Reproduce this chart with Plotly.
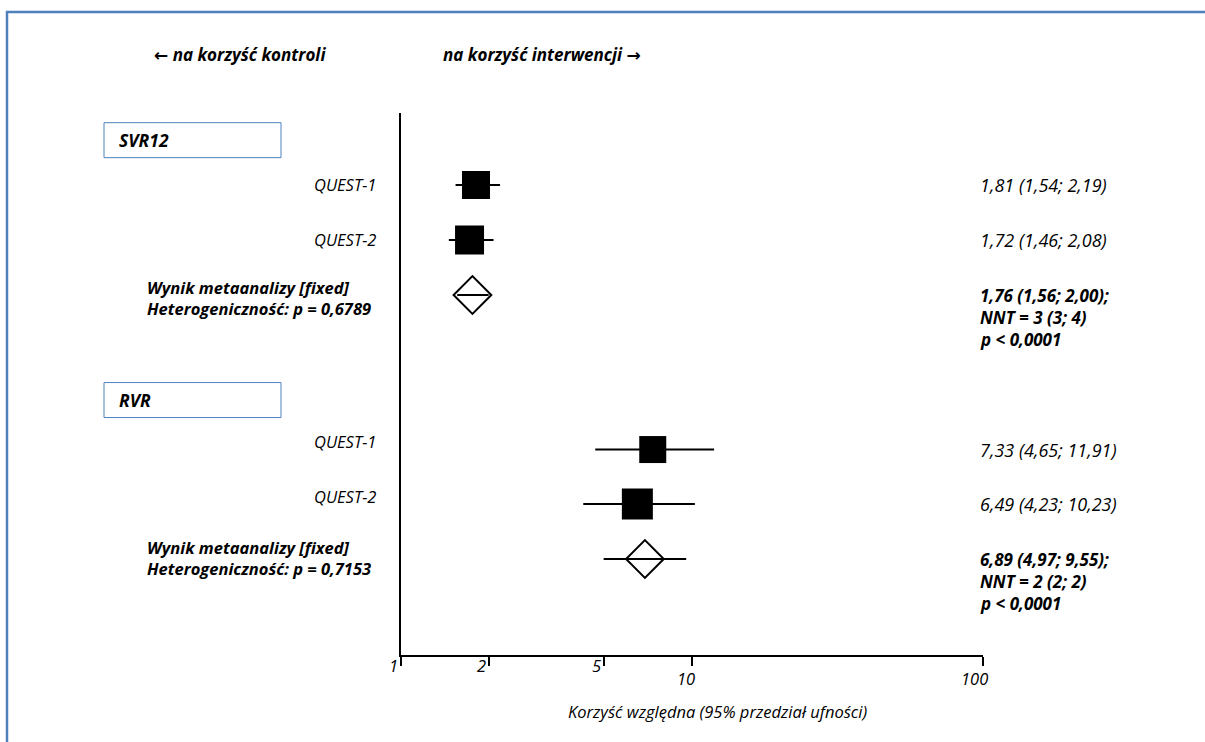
import math
import plotly.graph_objects as go

# ---------------- data ----------------
groups = ["SVR12", "RVR"]
study_names = ["QUEST-1", "QUEST-2", "QUEST-1", "QUEST-2"]
study_est = [1.81, 1.72, 7.33, 6.49]
study_lo = [1.54, 1.46, 4.65, 4.23]
study_hi = [2.19, 2.08, 11.91, 10.23]
meta_est = [1.76, 6.89]
meta_lo = [1.56, 4.97]
meta_hi = [2.00, 9.55]
meta_nnt = ["3 (3; 4)", "2 (2; 2)"]
meta_het_p = ["0,6789", "0,7153"]
meta_p = ["< 0,0001", "< 0,0001"]
x_ticks = [1, 2, 5, 10, 100]
x_title = "Korzyść względna (95% przedział ufności)"
left_hint = "na korzyść kontroli"
right_hint = "na korzyść interwencji"

# ---------------- layout helpers ----------------
W, H = 1205, 742
L, R, T, B = 401, 983, 113, 655  # plot area in pixels
study_rows = [0, 1, 4.81, 5.8]
meta_rows = [2, 6.8]
group_rows = [-0.815, 3.91]
label_shift = [1, 1, 8, 8]        # study-label offsets (px, upward)
meta_label_shift = [-3, 1]
ROW_PX = 55
Y_TOP = (T - 185) / ROW_PX
Y_BOT = (B - 185) / ROW_PX
SQ_SIZES = [28, 29, 27, 31]
FONT = "Open Sans"
ARROW_FONT = "DejaVu Sans"
BLUE = "#4f81bd"


def px(x):
    return (x - L) / (R - L)


def py(y):
    return (B - y) / (B - T)


def fmt(v):
    return f"{v:.2f}".replace(".", ",")


fig = go.Figure()

fig.add_trace(go.Scatter(
    x=study_est, y=study_rows, mode="markers",
    marker=dict(symbol="square", size=SQ_SIZES, color="black", opacity=1,
                line=dict(color="black", width=0)),
    error_x=dict(type="data", symmetric=False,
                 array=[h - e for h, e in zip(study_hi, study_est)],
                 arrayminus=[e - l for e, l in zip(study_est, study_lo)],
                 color="black", thickness=2, width=0),
    hoverinfo="skip", showlegend=False))

fig.add_trace(go.Scatter(
    x=meta_est, y=meta_rows, mode="markers",
    marker=dict(symbol="diamond-open", size=29, color="black", opacity=1,
                line=dict(color="black", width=2)),
    error_x=dict(type="data", symmetric=False,
                 array=[h - e for h, e in zip(meta_hi, meta_est)],
                 arrayminus=[e - l for e, l in zip(meta_est, meta_lo)],
                 color="black", thickness=2, width=0),
    hoverinfo="skip", showlegend=False))

ann = []
shapes = []
txt = dict(family=FONT, size=16.5, color="black")
vtxt = dict(family=FONT, size=18, color="black")
btxt = dict(family=FONT, size=16.5, color="black")
bvtxt = dict(family=FONT, size=17, color="black")
htxt = dict(family=FONT, size=17, color="black")
VAL_X = 978

# study labels and values
for i, (name, r, e, l, h) in enumerate(zip(study_names, study_rows, study_est, study_lo, study_hi)):
    ann.append(dict(x=px(378), y=r, xref="paper", yref="y", xanchor="right",
                    yanchor="middle", yshift=label_shift[i],
                    text=f"<i>{name}</i>", showarrow=False, font=txt))
    ann.append(dict(x=px(VAL_X), y=r, xref="paper", yref="y", xanchor="left",
                    yanchor="middle", text=f"<i>{fmt(e)} ({fmt(l)}; {fmt(h)})</i>",
                    showarrow=False, font=vtxt))

# meta-analysis rows
for i, r in enumerate(meta_rows):
    ann.append(dict(x=px(145), y=r, xref="paper", yref="y", xanchor="left",
                    yanchor="middle", align="left", yshift=meta_label_shift[i],
                    text=f"<b><i>Wynik metaanalizy [fixed]<br>Heterogeniczność: p = {meta_het_p[i]}</i></b>",
                    showarrow=False, font=btxt))
    lines = [f"{fmt(meta_est[i])} ({fmt(meta_lo[i])}; {fmt(meta_hi[i])});",
             f"NNT = {meta_nnt[i]}", f"p {meta_p[i]}"]
    for k, line in enumerate(lines):
        ann.append(dict(x=px(VAL_X), y=r, xref="paper", yref="y", xanchor="left",
                        yanchor="middle", yshift=-22 * k,
                        text=f"<b><i>{line}</i></b>", showarrow=False, font=bvtxt))

# group header boxes
for g, r in zip(groups, group_rows):
    shapes.append(dict(type="rect", xref="paper", yref="y", x0=px(104), x1=px(281),
                       y0=r - 0.318, y1=r + 0.318, line=dict(color=BLUE, width=1),
                       fillcolor="rgba(0,0,0,0)"))
    ann.append(dict(x=px(117), y=r, xref="paper", yref="y", xanchor="left",
                    yanchor="middle", text=f"<b><i>{g}</i></b>", showarrow=False,
                    font=dict(family=FONT, size=17.5, color="black")))

# tick labels
for v in x_ticks:
    if v < 10:
        ann.append(dict(x=math.log10(v), y=py(665), xref="x", yref="paper",
                        xanchor="right", yanchor="middle", xshift=-1,
                        text=f"<i>{v}</i>", showarrow=False, font=txt))
    else:
        ann.append(dict(x=math.log10(v), y=py(678), xref="x", yref="paper",
                        xanchor="center", yanchor="middle", xshift=-6 if v == 10 else -9,
                        text=f"<i>{v}</i>", showarrow=False, font=txt))

# axis title & hints
ann.append(dict(x=px(717), y=py(711), xref="paper", yref="paper", xanchor="center",
                yanchor="middle", text=f"<i>{x_title}</i>", showarrow=False,
                font=dict(family=FONT, size=16.5, color="black")))
arrow = lambda a: f"<span style='font-family:{ARROW_FONT}'>{a}</span>"
ann.append(dict(x=px(240), y=py(55), xref="paper", yref="paper", xanchor="center",
                yanchor="middle", text=f"<b><i>{arrow('←')} {left_hint}</i></b>",
                showarrow=False, font=htxt))
ann.append(dict(x=px(542), y=py(55), xref="paper", yref="paper", xanchor="center",
                yanchor="middle", text=f"<b><i>{right_hint} {arrow('→')}</i></b>",
                showarrow=False, font=htxt))

# outer frame
shapes.append(dict(type="rect", xref="paper", yref="paper", x0=px(7), x1=px(1230),
                   y0=py(780), y1=py(12), line=dict(color=BLUE, width=2.5),
                   fillcolor="rgba(0,0,0,0)"))

fig.update_layout(
    width=W, height=H,
    margin=dict(l=L, r=W - R, t=T, b=H - B, pad=0),
    paper_bgcolor="white", plot_bgcolor="white",
    xaxis=dict(type="log", range=[0, 2], showline=True, linecolor="black", linewidth=2,
               ticks="outside", ticklen=9, tickwidth=2, tickcolor="black",
               tickvals=x_ticks, showticklabels=False, showgrid=False, zeroline=False,
               fixedrange=True),
    yaxis=dict(range=[Y_BOT, Y_TOP], showline=True, linecolor="black", linewidth=2,
               ticks="", showticklabels=False, showgrid=False, zeroline=False,
               fixedrange=True),
    annotations=ann, shapes=shapes, showlegend=False,
)

fig.write_html(
    "out.html",
    config={"displayModeBar": False},
    post_script="document.body.style.margin='0';document.body.style.overflow='hidden';",
)
